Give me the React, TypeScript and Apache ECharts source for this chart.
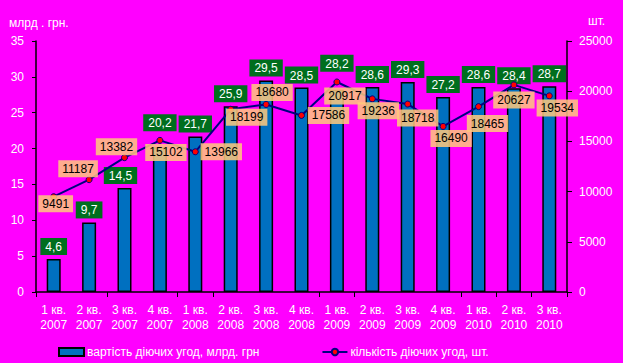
import React, { useEffect, useRef } from "react";
import * as echarts from "echarts";

const categories = [
  "1 кв.\n2007", "2 кв.\n2007", "3 кв.\n2007", "4 кв.\n2007",
  "1 кв.\n2008", "2 кв.\n2008", "3 кв.\n2008", "4 кв.\n2008",
  "1 кв.\n2009", "2 кв.\n2009", "3 кв.\n2009", "4 кв.\n2009",
  "1 кв.\n2010", "2 кв.\n2010", "3 кв.\n2010",
];
const valueBn = [4.6, 9.7, 14.5, 20.2, 21.7, 25.9, 29.5, 28.5, 28.2, 28.6, 29.3, 27.2, 28.6, 28.4, 28.7];
const countDeals = [9491, 11187, 13382, 15102, 13966, 18199, 18680, 17586, 20917, 19236, 18718, 16490, 18465, 20627, 19534];
const leftTicks = { min: 0, max: 35, interval: 5 };
const rightTicks = { min: 0, max: 25000, interval: 5000 };
const barName = "вартість діючих угод, млрд. грн";
const lineName = "кількість діючих угод, шт.";

// label placement (style, not data)
const lineLabelOffsets = [
  [2, 7], [-11, -11], [-8, -11], [6, 12], [26, 0], [16, 8], [6, -12], [27, 0],
  [8, 14], [6, 12], [10, 14], [8, 12], [9, 17], [0, 15], [8, 12],
];
const barLabelOffsets: Record<number, number[]> = { 2: [-4, 0], 3: [0, -12], 8: [0, -14] };
const tickBoundaries = new Set([0, 2, 4, 5, 8, 9, 12, 13, 14]);

const FONT = "Liberation Sans, Arial, sans-serif";
const shadowText = {
  color: "#fff",
  fontFamily: FONT,
  fontSize: 12,
  textShadowColor: "#000",
  textShadowOffsetX: 1,
  textShadowOffsetY: 1,
  textShadowBlur: 0,
};

export default function App() {
  const ref = useRef<HTMLDivElement>(null);
  useEffect(() => {
    if (!ref.current) return;
    const chart = echarts.init(ref.current, null, { renderer: "svg" });
    chart.setOption({
      animation: false,
      backgroundColor: "#FF00FF",
      grid: { left: 36, right: 56, top: 41, bottom: 71 },
      graphic: [
        { type: "text", left: 9, top: 17, style: { text: "млрд . грн.", ...shadowText, fill: "#fff" } as any },
        { type: "text", left: 588, top: 15, style: { text: "шт.", ...shadowText, fill: "#fff" } as any },
      ],
      legend: {
        left: 53,
        top: 341,
        itemWidth: 25,
        itemHeight: 8,
        itemGap: 62,
        textStyle: { ...shadowText, padding: [0, 0, 0, -2] },
        data: [
          { name: barName, icon: "rect" },
          { name: lineName },
        ],
      },
      xAxis: {
        type: "category",
        data: categories,
        boundaryGap: true,
        axisLine: { lineStyle: { color: "#000", width: 1.5 } },
        axisTick: {
          show: true,
          length: 5,
          lineStyle: { color: "#000", width: 1 },
          interval: (index: number) => tickBoundaries.has(index),
        },
        axisLabel: { ...shadowText, interval: 0, lineHeight: 15, margin: 10 },
        splitLine: { show: false },
      },
      yAxis: [
        {
          type: "value",
          ...leftTicks,
          axisLine: { show: true, lineStyle: { color: "#000", width: 1.5 } },
          axisTick: { show: true, length: 4, lineStyle: { color: "#000" } },
          axisLabel: { ...shadowText, margin: 12 },
          splitLine: { show: false },
        },
        {
          type: "value",
          ...rightTicks,
          position: "right",
          axisLine: { show: true, lineStyle: { color: "#000", width: 1.5 } },
          axisTick: { show: true, length: 5, lineStyle: { color: "#000" } },
          axisLabel: { ...shadowText, margin: 12, formatter: (v: number) => String(v) },
          splitLine: { show: false },
        },
      ],
      series: [
        {
          name: barName,
          type: "bar",
          yAxisIndex: 0,
          barWidth: 14,
          itemStyle: { color: "#0070C0", borderColor: "#000", borderWidth: 1.5 },
          data: valueBn.map((v, i) => ({
            value: v,
            label: barLabelOffsets[i] ? { offset: barLabelOffsets[i] } : undefined,
          })),
          label: {
            show: true,
            position: "top",
            distance: 4,
            color: "#fff",
            fontFamily: FONT,
            fontSize: 12,
            backgroundColor: "#006E1E",
            padding: [3, 5, 2, 5],
            formatter: (p: any) => String(p.value).replace(".", ","),
          },
          z: 2,
        },
        {
          name: lineName,
          type: "line",
          yAxisIndex: 1,
          symbol: "circle",
          symbolSize: 6,
          itemStyle: { color: "#FF0000", borderColor: "#000080", borderWidth: 1 },
          lineStyle: { color: "#000080", width: 2 },
          data: countDeals.map((v, i) => ({
            value: v,
            label: { offset: lineLabelOffsets[i] },
          })),
          label: {
            show: true,
            position: "inside",
            align: "center",
            verticalAlign: "middle",
            color: "#000",
            fontFamily: FONT,
            fontSize: 12,
            backgroundColor: "rgba(255,200,125,0.86)",
            padding: [3, 4, 2, 4],
          },
          z: 4,
        },
        {
          name: "overlay",
          type: "line",
          yAxisIndex: 1,
          symbol: "none",
          silent: true,
          lineStyle: { color: "#fff", width: 1, type: [2, 3] },
          data: countDeals,
          z: 3,
        },
      ],
    });
    return () => chart.dispose();
  }, []);
  return (
    <div
      ref={ref}
      style={{ position: "fixed", left: 0, top: 0, width: 623, height: 363 }}
    />
  );
}
